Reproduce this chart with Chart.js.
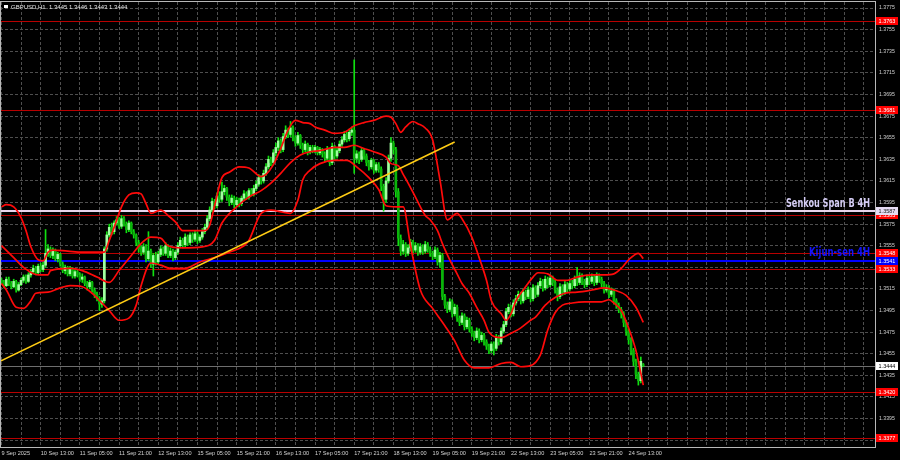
<!DOCTYPE html>
<html>
<head>
<meta charset="utf-8">
<script src="https://cdn.jsdelivr.net/npm/chart.js@4.4.1/dist/chart.umd.min.js"></script>
<style>
  html, body { margin: 0; padding: 0; background: #000; }
  canvas { display: block; }
</style>
</head>
<body>
<canvas id="chart" width="900" height="460"></canvas>
<script>
// GBPUSD H1, 9 Sep 21:00 .. 24 Sep 19:00 (one entry per hourly bar)
const symbol = 'GBPUSD,H1';

const timeLabels = ['9 Sep 2025', '10 Sep 13:00', '11 Sep 05:00', '11 Sep 21:00', '12 Sep 13:00',
  '15 Sep 05:00', '15 Sep 21:00', '16 Sep 13:00', '17 Sep 05:00', '17 Sep 21:00', '18 Sep 13:00',
  '19 Sep 05:00', '19 Sep 21:00', '22 Sep 13:00', '23 Sep 05:00', '23 Sep 21:00', '24 Sep 13:00'];

const priceTicks = [1.3375, 1.3395, 1.3415, 1.3435, 1.3455, 1.3475, 1.3495, 1.3515, 1.3535, 1.3555,
  1.3575, 1.3595, 1.3615, 1.3635, 1.3655, 1.3675, 1.3695, 1.3715, 1.3735, 1.3755, 1.3775];

const openP = [
  1.3523,1.3521,1.3518,1.3524,1.3520,1.3517,1.3522,1.3514,1.3519,1.3523,
  1.3526,1.3522,1.3528,1.3531,1.3534,1.3530,1.3536,1.3533,1.3537,1.3548,
  1.3552,1.3546,1.3550,1.3543,1.3547,1.3538,1.3532,1.3535,1.3529,1.3534,
  1.3527,1.3531,1.3528,1.3524,1.3526,1.3520,1.3517,1.3521,1.3514,1.3510,
  1.3506,1.3501,1.3504,1.3552,1.3565,1.3572,1.3568,1.3576,1.3579,1.3573,
  1.3580,1.3575,1.3570,1.3576,1.3568,1.3565,1.3558,1.3552,1.3549,1.3554,
  1.3543,1.3550,1.3538,1.3546,1.3540,1.3547,1.3552,1.3548,1.3555,1.3546,
  1.3550,1.3544,1.3549,1.3555,1.3560,1.3556,1.3563,1.3558,1.3565,1.3561,
  1.3566,1.3560,1.3563,1.3568,1.3572,1.3580,1.3588,1.3596,1.3592,1.3601,
  1.3598,1.3605,1.3608,1.3600,1.3595,1.3599,1.3593,1.3597,1.3594,1.3599,
  1.3603,1.3600,1.3606,1.3603,1.3608,1.3612,1.3618,1.3615,1.3622,1.3628,
  1.3635,1.3632,1.3641,1.3646,1.3652,1.3644,1.3656,1.3662,1.3658,1.3664,
  1.3655,1.3650,1.3657,1.3648,1.3644,1.3649,1.3642,1.3646,1.3643,1.3646,
  1.3641,1.3644,1.3640,1.3636,1.3644,1.3632,1.3647,1.3638,1.3643,1.3649,
  1.3653,1.3658,1.3654,1.3660,1.3662,1.3636,1.3640,1.3635,1.3643,1.3638,
  1.3632,1.3628,1.3634,1.3625,1.3630,1.3626,1.3610,1.3598,1.3615,1.3636,
  1.3650,1.3644,1.3605,1.3562,1.3550,1.3556,1.3548,1.3553,1.3558,1.3551,
  1.3555,1.3549,1.3554,1.3550,1.3556,1.3552,1.3548,1.3545,1.3551,1.3540,
  1.3546,1.3508,1.3500,1.3496,1.3503,1.3492,1.3498,1.3488,1.3484,1.3490,
  1.3480,1.3486,1.3478,1.3474,1.3470,1.3476,1.3468,1.3472,1.3466,1.3462,
  1.3458,1.3464,1.3460,1.3470,1.3466,1.3476,1.3482,1.3494,1.3498,1.3492,
  1.3502,1.3506,1.3510,1.3504,1.3512,1.3508,1.3514,1.3506,1.3516,1.3510,
  1.3518,1.3522,1.3516,1.3524,1.3519,1.3525,1.3521,1.3514,1.3508,1.3517,
  1.3512,1.3519,1.3515,1.3520,1.3518,1.3524,1.3521,1.3527,1.3522,1.3519,
  1.3525,1.3522,1.3526,1.3521,1.3527,1.3524,1.3520,1.3514,1.3516,1.3510,
  1.3513,1.3504,1.3500,1.3496,1.3492,1.3484,1.3476,1.3468,1.3458,1.3448,
  1.3436,1.3430,1.3445
];

const highP = [
  1.3525,1.3523,1.3526,1.3526,1.3522,1.3524,1.3523,1.3521,1.3525,1.3528,
  1.3528,1.3530,1.3533,1.3537,1.3536,1.3538,1.3539,1.3540,1.3570,1.3556,
  1.3554,1.3553,1.3552,1.3549,1.3548,1.3540,1.3537,1.3536,1.3536,1.3535,
  1.3533,1.3533,1.3530,1.3529,1.3527,1.3522,1.3523,1.3522,1.3516,1.3512,
  1.3508,1.3507,1.3554,1.3568,1.3575,1.3576,1.3578,1.3582,1.3581,1.3583,
  1.3582,1.3577,1.3578,1.3577,1.3570,1.3566,1.3560,1.3555,1.3557,1.3556,
  1.3568,1.3552,1.3548,1.3549,1.3550,1.3555,1.3554,1.3558,1.3556,1.3553,
  1.3552,1.3551,1.3558,1.3563,1.3562,1.3566,1.3565,1.3567,1.3567,1.3569,
  1.3568,1.3565,1.3571,1.3575,1.3583,1.3591,1.3599,1.3598,1.3604,1.3605,
  1.3614,1.3611,1.3609,1.3602,1.3602,1.3601,1.3600,1.3599,1.3601,1.3606,
  1.3605,1.3608,1.3608,1.3611,1.3615,1.3621,1.3620,1.3625,1.3631,1.3638,
  1.3637,1.3644,1.3650,1.3655,1.3654,1.3659,1.3666,1.3664,1.3670,1.3666,
  1.3657,1.3660,1.3658,1.3650,1.3652,1.3650,1.3648,1.3648,1.3648,1.3647,
  1.3646,1.3645,1.3642,1.3647,1.3645,1.3650,1.3648,1.3646,1.3652,1.3656,
  1.3661,1.3660,1.3663,1.3665,1.3727,1.3643,1.3642,1.3646,1.3645,1.3640,
  1.3634,1.3636,1.3635,1.3632,1.3632,1.3628,1.3612,1.3618,1.3639,1.3655,
  1.3652,1.3646,1.3608,1.3565,1.3560,1.3558,1.3556,1.3561,1.3560,1.3558,
  1.3557,1.3557,1.3556,1.3559,1.3558,1.3554,1.3550,1.3554,1.3553,1.3549,
  1.3548,1.3510,1.3503,1.3506,1.3505,1.3501,1.3500,1.3490,1.3493,1.3492,
  1.3489,1.3488,1.3480,1.3476,1.3479,1.3478,1.3475,1.3474,1.3468,1.3464,
  1.3466,1.3466,1.3473,1.3472,1.3479,1.3485,1.3497,1.3501,1.3500,1.3505,
  1.3509,1.3513,1.3512,1.3515,1.3514,1.3517,1.3516,1.3519,1.3518,1.3521,
  1.3525,1.3524,1.3527,1.3526,1.3528,1.3527,1.3523,1.3516,1.3520,1.3519,
  1.3522,1.3521,1.3523,1.3523,1.3527,1.3535,1.3530,1.3529,1.3524,1.3528,
  1.3527,1.3529,1.3528,1.3530,1.3529,1.3526,1.3522,1.3519,1.3518,1.3516,
  1.3515,1.3506,1.3502,1.3498,1.3494,1.3486,1.3478,1.3470,1.3460,1.3450,
  1.3438,1.3452,1.3446
];

const lowP = [
  1.3519,1.3516,1.3517,1.3518,1.3515,1.3516,1.3512,1.3513,1.3518,1.3521,
  1.3520,1.3521,1.3526,1.3529,1.3528,1.3529,1.3531,1.3531,1.3535,1.3545,
  1.3544,1.3543,1.3541,1.3540,1.3536,1.3530,1.3529,1.3527,1.3527,1.3525,
  1.3525,1.3526,1.3522,1.3521,1.3518,1.3514,1.3515,1.3512,1.3507,1.3504,
  1.3495,1.3498,1.3502,1.3550,1.3563,1.3565,1.3566,1.3574,1.3571,1.3571,
  1.3573,1.3567,1.3568,1.3566,1.3562,1.3555,1.3549,1.3546,1.3547,1.3540,
  1.3541,1.3535,1.3527,1.3537,1.3538,1.3545,1.3546,1.3546,1.3544,1.3544,
  1.3541,1.3542,1.3547,1.3553,1.3553,1.3554,1.3555,1.3556,1.3558,1.3559,
  1.3557,1.3558,1.3561,1.3566,1.3570,1.3578,1.3586,1.3589,1.3590,1.3595,
  1.3596,1.3602,1.3597,1.3592,1.3593,1.3590,1.3591,1.3591,1.3592,1.3597,
  1.3598,1.3598,1.3601,1.3601,1.3606,1.3610,1.3612,1.3613,1.3620,1.3626,
  1.3629,1.3630,1.3638,1.3643,1.3641,1.3642,1.3654,1.3655,1.3656,1.3652,
  1.3647,1.3648,1.3645,1.3641,1.3642,1.3639,1.3640,1.3641,1.3641,1.3639,
  1.3639,1.3637,1.3633,1.3634,1.3629,1.3630,1.3635,1.3636,1.3641,1.3647,
  1.3651,1.3651,1.3652,1.3657,1.3622,1.3632,1.3631,1.3633,1.3635,1.3629,
  1.3625,1.3626,1.3622,1.3623,1.3623,1.3606,1.3587,1.3595,1.3613,1.3633,
  1.3640,1.3600,1.3555,1.3546,1.3547,1.3545,1.3546,1.3550,1.3548,1.3549,
  1.3546,1.3547,1.3547,1.3548,1.3549,1.3545,1.3542,1.3543,1.3537,1.3535,
  1.3505,1.3497,1.3493,1.3494,1.3489,1.3490,1.3485,1.3481,1.3482,1.3477,
  1.3478,1.3475,1.3471,1.3467,1.3468,1.3465,1.3466,1.3463,1.3459,1.3455,
  1.3456,1.3454,1.3458,1.3463,1.3464,1.3474,1.3480,1.3492,1.3489,1.3490,
  1.3500,1.3504,1.3501,1.3502,1.3505,1.3506,1.3503,1.3504,1.3507,1.3508,
  1.3516,1.3513,1.3514,1.3516,1.3517,1.3518,1.3511,1.3504,1.3506,1.3509,
  1.3510,1.3512,1.3513,1.3515,1.3516,1.3518,1.3519,1.3519,1.3516,1.3517,
  1.3519,1.3520,1.3518,1.3519,1.3521,1.3517,1.3511,1.3512,1.3507,1.3508,
  1.3501,1.3497,1.3493,1.3488,1.3480,1.3472,1.3464,1.3454,1.3444,1.3432,
  1.3426,1.3428,1.3443
];

const closeP = [
  1.3521,1.3518,1.3524,1.3520,1.3517,1.3522,1.3514,1.3519,1.3523,1.3526,
  1.3522,1.3528,1.3531,1.3534,1.3530,1.3536,1.3533,1.3537,1.3548,1.3552,
  1.3546,1.3550,1.3543,1.3547,1.3538,1.3532,1.3535,1.3529,1.3534,1.3527,
  1.3531,1.3528,1.3524,1.3526,1.3520,1.3517,1.3521,1.3514,1.3510,1.3506,
  1.3501,1.3504,1.3552,1.3565,1.3572,1.3568,1.3576,1.3579,1.3573,1.3580,
  1.3575,1.3570,1.3576,1.3568,1.3565,1.3558,1.3552,1.3549,1.3554,1.3543,
  1.3550,1.3538,1.3546,1.3540,1.3547,1.3552,1.3548,1.3555,1.3546,1.3550,
  1.3544,1.3549,1.3555,1.3560,1.3556,1.3563,1.3558,1.3565,1.3561,1.3566,
  1.3560,1.3563,1.3568,1.3572,1.3580,1.3588,1.3596,1.3592,1.3601,1.3598,
  1.3605,1.3608,1.3600,1.3595,1.3599,1.3593,1.3597,1.3594,1.3599,1.3603,
  1.3600,1.3606,1.3603,1.3608,1.3612,1.3618,1.3615,1.3622,1.3628,1.3635,
  1.3632,1.3641,1.3646,1.3652,1.3644,1.3656,1.3662,1.3658,1.3664,1.3655,
  1.3650,1.3657,1.3648,1.3644,1.3649,1.3642,1.3646,1.3643,1.3646,1.3641,
  1.3644,1.3640,1.3636,1.3644,1.3632,1.3647,1.3638,1.3643,1.3649,1.3653,
  1.3658,1.3654,1.3660,1.3662,1.3636,1.3640,1.3635,1.3643,1.3638,1.3632,
  1.3628,1.3634,1.3625,1.3630,1.3626,1.3610,1.3598,1.3615,1.3636,1.3650,
  1.3644,1.3605,1.3562,1.3550,1.3556,1.3548,1.3553,1.3558,1.3551,1.3555,
  1.3549,1.3554,1.3550,1.3556,1.3552,1.3548,1.3545,1.3551,1.3540,1.3546,
  1.3508,1.3500,1.3496,1.3503,1.3492,1.3498,1.3488,1.3484,1.3490,1.3480,
  1.3486,1.3478,1.3474,1.3470,1.3476,1.3468,1.3472,1.3466,1.3462,1.3458,
  1.3464,1.3460,1.3470,1.3466,1.3476,1.3482,1.3494,1.3498,1.3492,1.3502,
  1.3506,1.3510,1.3504,1.3512,1.3508,1.3514,1.3506,1.3516,1.3510,1.3518,
  1.3522,1.3516,1.3524,1.3519,1.3525,1.3521,1.3514,1.3508,1.3517,1.3512,
  1.3519,1.3515,1.3520,1.3518,1.3524,1.3521,1.3527,1.3522,1.3519,1.3525,
  1.3522,1.3526,1.3521,1.3527,1.3524,1.3520,1.3514,1.3516,1.3510,1.3513,
  1.3504,1.3500,1.3496,1.3492,1.3484,1.3476,1.3468,1.3458,1.3448,1.3436,
  1.3430,1.3448,1.3444
];

// Bollinger-style envelope as [bar, price]
const upperBand = [[0,1.3591],[2,1.3593],[5,1.3591],[8,1.3581],[10,1.3569],[12,1.3554],[15,1.3542],
  [17,1.3541],[19,1.3549],[21,1.3551],[27,1.3550],[33,1.3549],[39,1.3549],[42,1.3549],[44,1.3560],
  [46,1.3572],[49,1.3591],[52,1.3602],[55,1.3604],[57,1.3603],[59,1.3594],[61,1.3585],[65,1.3588],
  [68,1.3583],[71,1.3577],[74,1.3569],[83,1.3569],[85,1.3574],[87,1.3592],[90,1.3618],[93,1.3623],
  [97,1.3628],[101,1.3627],[106,1.3619],[108,1.3621],[111,1.3630],[114,1.3645],[117,1.3662],
  [120,1.3671],[123,1.3669],[126,1.3668],[128,1.3665],[132,1.3662],[136,1.3659],[140,1.3660],
  [144,1.3666],[148,1.3669],[152,1.3671],[157,1.3675],[159,1.3674],[161,1.3668],[163,1.3660],
  [165,1.3665],[168,1.3670],[170,1.3668],[173,1.3664],[176,1.3653],[179,1.3616],[182,1.3579],
  [186,1.3585],[188,1.3580],[192,1.3563],[195,1.3544],[198,1.3523],[200,1.3504],[204,1.3492],
  [206,1.3486],[208,1.3492],[210,1.3504],[213,1.3514],[217,1.3526],[219,1.3530],[223,1.3529],
  [227,1.3523],[231,1.3523],[235,1.3526],[241,1.3528],[246,1.3528],[250,1.3529],[253,1.3534],
  [256,1.3542],[260,1.3548],[262,1.3543]];

const midBand = [[0,1.3555],[5,1.3544],[9,1.3535],[15,1.3528],[19,1.3528],[20,1.3532],[28,1.3534],
  [33,1.3532],[39,1.3526],[44,1.3521],[48,1.3532],[53,1.3546],[57,1.3557],[61,1.3563],[65,1.3562],
  [68,1.3555],[74,1.3553],[82,1.3554],[87,1.3560],[90,1.3576],[96,1.3591],[101,1.3600],[106,1.3606],
  [110,1.3613],[114,1.3622],[118,1.3632],[122,1.3639],[126,1.3642],[130,1.3643],[136,1.3646],
  [140,1.3646],[144,1.3648],[148,1.3645],[152,1.3642],[157,1.3637],[159,1.3631],[162,1.3629],
  [164,1.3621],[166,1.3613],[169,1.3600],[173,1.3583],[175,1.3579],[178,1.3569],[180,1.3557],
  [183,1.3542],[186,1.3529],[188,1.3520],[191,1.3511],[194,1.3498],[197,1.3486],[199,1.3475],
  [204,1.3470],[208,1.3474],[212,1.3479],[216,1.3486],[218,1.3489],[222,1.3500],[226,1.3507],
  [230,1.3511],[235,1.3512],[241,1.3514],[246,1.3516],[250,1.3514],[255,1.3509],[259,1.3498],
  [262,1.3484]];

const lowerBand = [[0,1.3520],[2,1.3514],[6,1.3498],[9,1.3497],[12,1.3504],[14,1.3511],[19,1.3512],
  [24,1.3516],[28,1.3518],[33,1.3517],[37,1.3511],[41,1.3502],[44,1.3495],[48,1.3486],[52,1.3488],
  [55,1.3500],[57,1.3518],[61,1.3539],[65,1.3537],[69,1.3534],[75,1.3534],[81,1.3540],[87,1.3544],
  [93,1.3549],[99,1.3555],[101,1.3560],[106,1.3585],[110,1.3588],[115,1.3586],[118,1.3585],
  [121,1.3597],[123,1.3616],[126,1.3625],[130,1.3631],[136,1.3634],[141,1.3634],[145,1.3628],
  [150,1.3618],[154,1.3607],[157,1.3592],[161,1.3591],[164,1.3591],[167,1.3555],[171,1.3514],
  [176,1.3497],[181,1.3481],[185,1.3467],[189,1.3449],[193,1.3442],[199,1.3442],[204,1.3446],
  [208,1.3447],[212,1.3443],[216,1.3444],[220,1.3454],[223,1.3477],[226,1.3493],[229,1.3500],
  [233,1.3502],[238,1.3503],[245,1.3503],[248,1.3505],[250,1.3502],[253,1.3495],[256,1.3479],
  [259,1.3458],[262,1.3426]];

const trendLine = [[-0.6, 1.3448], [185, 1.3651]];

const redLevels = [1.3763, 1.3681, 1.3583, 1.3548, 1.3533, 1.3420, 1.3377];
const senkouSpanB = 1.3587;
const kijunSen = 1.3541;
const lastPrice = 1.3444;

const labelFont = '"Liberation Sans", Arial, sans-serif';
const narrowBold = '"Liberation Sans Narrow", "DejaVu Sans Condensed", sans-serif';
const lastBar = closeP.length - 1;

function priceBox(ctx, area, price, y, bg, fg) {
  ctx.fillStyle = bg;
  ctx.fillRect(area.right + 1, Math.round(y) - 4, 22, 8);
  ctx.fillStyle = fg;
  ctx.font = '5.5px ' + labelFont;
  ctx.textAlign = 'center';
  ctx.textBaseline = 'middle';
  ctx.fillText(price.toFixed(4), area.right + 12, Math.round(y) + 0.5);
}

// caption squeezed to a given width, right edge at x
function caption(ctx, text, x, y, width, color) {
  ctx.save();
  ctx.font = 'bold 12px ' + narrowBold;
  const w = ctx.measureText(text).width;
  const k = Math.min(1, width / w);
  ctx.translate(x, y);
  ctx.scale(k, 1);
  ctx.textAlign = 'right';
  ctx.textBaseline = 'alphabetic';
  ctx.fillStyle = color;
  ctx.fillText(text, 0, 0);
  ctx.restore();
}

const terminal = {
  id: 'terminal',
  beforeDraw(chart) {
    const ctx = chart.ctx;
    ctx.save();
    ctx.fillStyle = '#000';
    ctx.fillRect(0, 0, chart.width, chart.height);
    ctx.restore();
  },
  beforeDatasetsDraw(chart) {
    const { ctx, chartArea: a, scales: { y } } = chart;
    const hline = (p, color, w) => {
      const py = Math.round(y.getPixelForValue(p)) + (w % 2 ? 0.5 : 0);
      ctx.strokeStyle = color;
      ctx.lineWidth = w;
      ctx.beginPath();
      ctx.moveTo(a.left, py);
      ctx.lineTo(a.right, py);
      ctx.stroke();
    };
    ctx.save();
    redLevels.forEach(p => hline(p, '#b80000', 1));
    hline(senkouSpanB, '#e8d4ec', 2);
    hline(kijunSen, '#0000ff', 2);
    hline(lastPrice, '#6e6e6e', 1);
    ctx.restore();
  },
  afterDraw(chart) {
    const { ctx, chartArea: a, scales: { y } } = chart;
    ctx.save();
    // frame
    ctx.strokeStyle = '#b8b8b8';
    ctx.lineWidth = 1;
    ctx.strokeRect(0.5, a.top - 0.5, a.right, a.bottom - a.top + 1);

    // indicator captions
    caption(ctx, 'Senkou Span B 4H', a.right - 5, y.getPixelForValue(senkouSpanB) - 4, 84, '#d6cef6');
    caption(ctx, 'Kijun-sen 4H', a.right - 5, y.getPixelForValue(kijunSen) - 5, 61, '#1414ff');

    // price boxes on the right scale
    redLevels.forEach(p => priceBox(ctx, a, p, y.getPixelForValue(p), '#ff0000', '#ffffff'));
    priceBox(ctx, a, senkouSpanB, y.getPixelForValue(senkouSpanB), '#e6dcf4', '#202020');
    priceBox(ctx, a, kijunSen, y.getPixelForValue(kijunSen), '#0000ff', '#ffffff');
    priceBox(ctx, a, lastPrice, y.getPixelForValue(lastPrice), '#ffffff', '#000000');

    // header
    ctx.fillStyle = '#ffffff';
    ctx.fillRect(4, 5, 4, 3);
    ctx.font = '6px ' + labelFont;
    ctx.textAlign = 'left';
    ctx.textBaseline = 'middle';
    ctx.fillStyle = '#e6e6e6';
    const ohlc = [openP[lastBar], highP[lastBar], lowP[lastBar], closeP[lastBar]].map(v => v.toFixed(4)).join(' ');
    ctx.fillText(symbol + '  ' + ohlc, 11, 7);
    ctx.restore();
  }
};

const bodyColors = closeP.map((c, i) => c >= openP[i] ? '#a0ffa0' : '#0ab40a');
const bandStyle = { type: 'line', borderColor: '#ff0a0a', borderWidth: 1.7, pointRadius: 0, cubicInterpolationMode: 'monotone' };

new Chart(document.getElementById('chart'), {
  type: 'bar',
  data: {
    datasets: [
      { type: 'line', data: trendLine, borderColor: '#ffcc14', borderWidth: 1.6, pointRadius: 0 },
      { ...bandStyle, data: upperBand },
      { ...bandStyle, data: midBand },
      { ...bandStyle, data: lowerBand },
      {
        data: openP.map((o, i) => ({ x: i, y: [o, closeP[i]] })),
        backgroundColor: bodyColors,
        barThickness: 2,
        minBarLength: 1,
        grouped: false
      },
      {
        data: lowP.map((l, i) => ({ x: i, y: [l, highP[i]] })),
        backgroundColor: '#10e010',
        barThickness: 1,
        minBarLength: 1,
        grouped: false
      }
    ]
  },
  options: {
    responsive: false,
    animation: false,
    devicePixelRatio: 1,
    layout: { padding: { top: 2, left: 0, right: 0, bottom: 0 } },
    plugins: { legend: { display: false }, tooltip: { enabled: false } },
    scales: {
      x: {
        type: 'linear',
        min: -0.6,
        max: 356.6,
        offset: false,
        afterBuildTicks: s => { s.ticks = []; for (let v = 0; v <= 352; v += 8) s.ticks.push({ value: v }); },
        afterFit: s => { s.height = 13; s.paddingLeft = 0; s.paddingRight = 0; },
        grid: { color: '#4e4e4e', offset: false, drawTicks: false },
        border: { display: false, dash: [3, 2] },
        ticks: {
          autoSkip: false,
          maxRotation: 0,
          align: 'start',
          padding: 3,
          color: '#d2d2d2',
          font: { family: labelFont, size: 5.6 },
          callback: v => (v % 16 === 0 ? (timeLabels[v / 16] || '') : '')
        }
      },
      y: {
        position: 'right',
        min: 1.33687,
        max: 1.37806,
        afterBuildTicks: s => { s.ticks = priceTicks.map(v => ({ value: v })); },
        afterFit: s => { s.width = 25; s.paddingTop = 0; s.paddingBottom = 0; },
        grid: { color: '#4e4e4e', drawTicks: false },
        border: { display: false, dash: [3, 2] },
        ticks: {
          padding: 4,
          color: '#d2d2d2',
          font: { family: labelFont, size: 5.2 },
          callback: v => v.toFixed(4)
        }
      }
    }
  },
  plugins: [terminal]
});
</script>
</body>
</html>
